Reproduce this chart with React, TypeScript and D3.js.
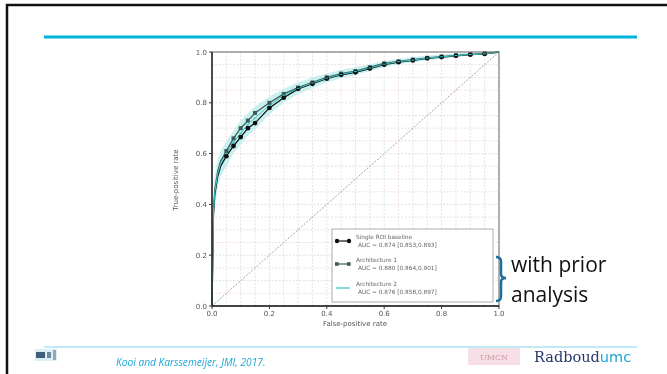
import React from "react";
import * as d3 from "d3";

const fpr = [0, 0.005, 0.01, 0.02, 0.03, 0.05, 0.075, 0.1, 0.125, 0.15, 0.2, 0.25, 0.3, 0.35, 0.4, 0.45, 0.5, 0.55, 0.6, 0.65, 0.7, 0.75, 0.8, 0.85, 0.9, 0.95, 1.0];
const tprBaseline = [0, 0.36, 0.44, 0.51, 0.55, 0.59, 0.63, 0.665, 0.7, 0.72, 0.78, 0.82, 0.855, 0.875, 0.895, 0.91, 0.92, 0.935, 0.95, 0.96, 0.967, 0.975, 0.98, 0.985, 0.99, 0.993, 1.0];
const tprArch1 = [0, 0.38, 0.46, 0.53, 0.57, 0.61, 0.66, 0.7, 0.73, 0.76, 0.8, 0.835, 0.86, 0.88, 0.9, 0.915, 0.925, 0.94, 0.955, 0.963, 0.97, 0.977, 0.982, 0.987, 0.99, 0.994, 1.0];
const tprArch2 = [0, 0.37, 0.45, 0.52, 0.56, 0.6, 0.645, 0.68, 0.715, 0.74, 0.79, 0.83, 0.857, 0.878, 0.897, 0.912, 0.923, 0.937, 0.952, 0.962, 0.968, 0.976, 0.981, 0.986, 0.99, 0.993, 1.0];
const bandLow = [0, 0.3, 0.39, 0.47, 0.51, 0.55, 0.6, 0.635, 0.67, 0.695, 0.755, 0.8, 0.835, 0.858, 0.88, 0.897, 0.908, 0.925, 0.94, 0.951, 0.96, 0.968, 0.974, 0.98, 0.986, 0.99, 1.0];
const bandHigh = [0, 0.44, 0.51, 0.58, 0.61, 0.65, 0.69, 0.73, 0.76, 0.785, 0.825, 0.855, 0.88, 0.9, 0.915, 0.93, 0.94, 0.952, 0.965, 0.973, 0.98, 0.986, 0.99, 0.994, 0.997, 0.999, 1.0];

const axisTicks = [0, 0.2, 0.4, 0.6, 0.8, 1.0];
const gridTicks = d3.range(0, 21).map((i) => i / 20);

const legendTitles = ["Single ROI baseline", "Architecture 1", "Architecture 2"];
const legendAUC = ["AUC = 0.874 [0.853,0.893]", "AUC = 0.880 [0.864,0.901]", "AUC = 0.876 [0.858,0.897]"];
const seriesColors = ["#111111", "#3d5a5a", "#33c6c6"];

export default function App() {
  const x = d3.scaleLinear().domain([0, 1]).range([212, 499]);
  const y = d3.scaleLinear().domain([0, 1]).range([306, 52]);
  const line = (vals: number[]) =>
    d3.line<number>().x((_, i) => x(fpr[i])).y((v) => y(v)).curve(d3.curveLinear)(vals) as string;
  const band = d3
    .area<number>()
    .x((_, i) => x(fpr[i]))
    .y0((_, i) => y(bandLow[i]))
    .y1((_, i) => y(bandHigh[i]))(fpr) as string;
  const series = [tprBaseline, tprArch1, tprArch2];
  const markIdx = fpr.map((f, i) => i).filter((i) => fpr[i] >= 0.05 && fpr[i] < 1);

  const legX = 332, legY = 229, legW = 161, legH = 73;
  const entryY = [241, 264, 288];

  return (
    <svg width={667} height={374} style={{ position: "absolute", left: 0, top: 0, background: "#fff" }}>
      <defs>
        <filter id="soft" x="-5%" y="-5%" width="110%" height="110%">
          <feGaussianBlur stdDeviation="0.45" />
        </filter>
      </defs>
      {/* slide frame */}
      <rect x={0} y={0} width={667} height={374} fill="#fff" />
      <line x1={7} y1={4} x2={7} y2={374} stroke="#111" strokeWidth={2.5} />
      <line x1={6} y1={5} x2={667} y2={5} stroke="#111" strokeWidth={2.5} />
      <line x1={44} y1={37} x2={637} y2={37} stroke="#00b4dc" strokeWidth={3} />

      <g filter="url(#soft)">
        {/* grid */}
        {gridTicks.map((t, i) => (
          <g key={"g" + i}>
            <line x1={x(t)} x2={x(t)} y1={y(0)} y2={y(1)} stroke={i % 4 === 1 ? "#efd6da" : "#dadada"} strokeWidth={0.8} strokeDasharray="2,1.5" />
            <line x1={x(0)} x2={x(1)} y1={y(t)} y2={y(t)} stroke={i % 4 === 1 ? "#efd6da" : "#dadada"} strokeWidth={0.8} strokeDasharray="2,1.5" />
          </g>
        ))}
        {/* diagonal */}
        <line x1={x(0)} y1={y(0)} x2={x(1)} y2={y(1)} stroke="#999" strokeWidth={0.9} strokeDasharray="2,1.5" />
        {/* band */}
        <path d={band} fill="#c4f0ee" opacity={0.9} />
        {/* curves */}
        {series.map((s, k) => (
          <path key={"c" + k} d={line(s)} fill="none" stroke={seriesColors[k]} strokeWidth={k === 2 ? 1 : 1.3} />
        ))}
        {markIdx.map((i) => (
          <g key={"m" + i}>
            <rect x={x(fpr[i]) - 2} y={y(tprArch1[i]) - 2} width={4} height={4} fill={seriesColors[1]} />
            <circle cx={x(fpr[i])} cy={y(tprBaseline[i])} r={2.4} fill={seriesColors[0]} />
            <line x1={x(fpr[i]) - 1.5} x2={x(fpr[i]) + 1.5} y1={y(tprArch2[i])} y2={y(tprArch2[i])} stroke={seriesColors[2]} strokeWidth={1} />
          </g>
        ))}
        {/* axes frame */}
        <rect x={x(0)} y={y(1)} width={x(1) - x(0)} height={y(0) - y(1)} fill="none" stroke="#666" strokeWidth={1} />
        <line x1={x(0)} x2={x(0)} y1={y(0)} y2={y(1)} stroke="#222" strokeWidth={1.4} />
        <line x1={x(0)} x2={x(1)} y1={y(0)} y2={y(0)} stroke="#222" strokeWidth={1.4} />
        {axisTicks.map((t) => (
          <g key={"t" + t}>
            <line x1={x(t)} x2={x(t)} y1={y(0)} y2={y(0) + 3} stroke="#333" />
            <line x1={x(0) - 3} x2={x(0)} y1={y(t)} y2={y(t)} stroke="#333" />
            <text x={x(t)} y={y(0) + 10} fontSize={7} fill="#555" textAnchor="middle" fontFamily="DejaVu Sans">{t.toFixed(1)}</text>
            <text x={x(0) - 5} y={y(t) + 2.5} fontSize={7} fill="#555" textAnchor="end" fontFamily="DejaVu Sans">{t.toFixed(1)}</text>
          </g>
        ))}
        <text x={355} y={326} fontSize={7} fill="#555" textAnchor="middle" fontFamily="DejaVu Sans">False-positive rate</text>
        <text transform="translate(178,180) rotate(-90)" fontSize={7} fill="#555" textAnchor="middle" fontFamily="DejaVu Sans">True-positive rate</text>
        {/* legend */}
        <rect x={legX} y={legY} width={legW} height={legH} fill="#fff" stroke="#999" strokeWidth={0.8} />
        {legendTitles.map((t, k) => (
          <g key={"l" + k}>
            <line x1={legX + 4} x2={legX + 18} y1={entryY[k]} y2={entryY[k]} stroke={seriesColors[k]} strokeWidth={1.2} />
            {k === 0 && (
              <>
                <circle cx={legX + 5} cy={entryY[k]} r={2.2} fill={seriesColors[0]} />
                <circle cx={legX + 17} cy={entryY[k]} r={2.2} fill={seriesColors[0]} />
              </>
            )}
            {k === 1 && (
              <>
                <rect x={legX + 3} y={entryY[k] - 1.8} width={3.6} height={3.6} fill={seriesColors[1]} />
                <rect x={legX + 15} y={entryY[k] - 1.8} width={3.6} height={3.6} fill={seriesColors[1]} />
              </>
            )}
            <text x={legX + 24} y={entryY[k] - 2} fontSize={5.8} fill="#666" fontFamily="DejaVu Sans">{t}</text>
            <text x={legX + 26} y={entryY[k] + 6} fontSize={5.8} fill="#666" fontFamily="DejaVu Sans">{legendAUC[k]}</text>
          </g>
        ))}
      </g>

      {/* bracket */}
      <path d="M496,257 Q501,257 501,262 L501,274 Q501,278 506,278 Q501,278 501,282 L501,296 Q501,301 496,301" fill="none" stroke="#1f6e9e" strokeWidth={2.5} />
      <text x={511} y={272} fontSize={21} fill="#111" fontFamily="Open Sans">with prior</text>
      <text x={511} y={302} fontSize={21} fill="#111" fontFamily="Open Sans">analysis</text>

      {/* footer */}
      <line x1={44} y1={347} x2={637} y2={347} stroke="#7fd4ec" strokeWidth={1} />
      <g filter="url(#soft)">
        <rect x={35} y={349} width={22} height={12} fill="#dbeef5" />
        <rect x={36} y={352} width={9} height={6} fill="#3f5f78" />
        <rect x={47} y={352} width={4} height={6} fill="#6f8aa0" />
        <rect x={53} y={350} width={3} height={10} fill="#90a8b8" />
      </g>
      <text x={116} y={366} fontSize={10.2} fill="#1aa6d8" fontStyle="italic" fontFamily="Open Sans">Kooi and Karssemeijer, JMI, 2017.</text>
      <g filter="url(#soft)" opacity={0.75}>
        <rect x={468} y={348} width={52} height={17} fill="#f3d4dc" />
        <text x={494} y={360} fontSize={8} fill="#c0708a" textAnchor="middle" fontFamily="DejaVu Serif">UMCN</text>
      </g>
      <text x={534} y={362} fontSize={14.5} fontFamily="DejaVu Serif" fill="#24386a">
        Radboud<tspan fill="#1aa6d8" fontFamily="DejaVu Sans">umc</tspan>
      </text>
    </svg>
  );
}
